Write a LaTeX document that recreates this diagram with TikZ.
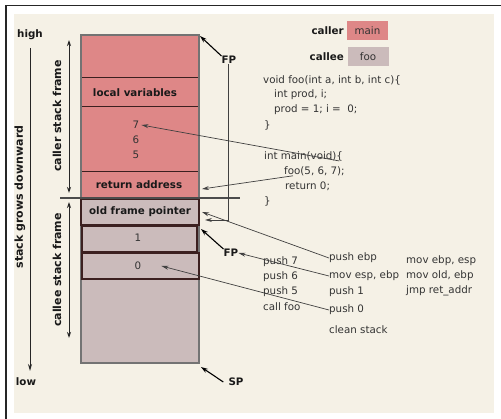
\documentclass[tikz,border=0pt]{standalone}
\usepackage{fontspec}
\setmainfont{DejaVu Sans}
\usetikzlibrary{arrows.meta}
\definecolor{bg}{HTML}{F5F1E6}
\definecolor{callerred}{HTML}{DE8787}
\definecolor{calleegray}{HTML}{CBBBBB}
\definecolor{cellline}{HTML}{3C2020}
\definecolor{codegray}{HTML}{333333}
\begin{document}
\begin{tikzpicture}[x=1pt,y=-1pt,
  code/.style={font=\fontsize{10.3}{12}\selectfont, text=codegray, inner sep=0pt, anchor=west},
  num/.style={font=\fontsize{10.3}{12}\selectfont, text=codegray, inner sep=0pt},
  lbl/.style={font=\fontsize{10.3}{12}\selectfont\bfseries, text=black!90, inner sep=0pt},
  rlbl/.style={font=\fontsize{11}{13}\selectfont\bfseries, text=black!90, inner sep=0pt, rotate=90},
  conn/.style={draw=black!75, line width=0.7pt, -{Stealth[length=7pt,width=4pt]}},
  ptr/.style={draw=black, line width=1.1pt, -{Stealth[length=7pt,width=4.5pt]}},
  span/.style={draw=black!85, line width=1pt, {Stealth[length=6pt,width=4pt]}-{Stealth[length=6pt,width=4pt]}},
  legend/.style={font=\fontsize{10.3}{12}\selectfont, text=codegray, minimum width=41pt, minimum height=19pt, inner sep=0pt}
]
\useasboundingbox (0,0) rectangle (501,419);
\fill[white] (0,0) rectangle (501,419);
\fill[bg] (14,14) rectangle (494,413);
\draw[black!85, line width=1.2pt] (501,5.5) -- (6,5.5) -- (6,419);

% stack
\fill[callerred] (81,35) rectangle (199,198);
\fill[calleegray] (81,198) rectangle (199,363);
\draw[cellline, line width=1pt] (81,78) -- (199,78) (81,107) -- (199,107) (81,172) -- (199,172);
\draw[black!55, line width=1.6pt] (81,35) rectangle (199,363);
\draw[cellline, line width=1.4pt] (81,199) rectangle (199,225);
\draw[cellline, line width=1.4pt] (82,226) rectangle (197,252);
\draw[cellline, line width=1.4pt] (82,253) rectangle (199,279);
\draw[black!70, line width=1.2pt] (60,198) -- (240,198);

\node[lbl] (lv) at (135,93) {local variables};
\node[num] (n7) at (136,125) {7};
\node[num] (n6) at (136,140) {6};
\node[num] (n5) at (136,155) {5};
\node[lbl] (ra) at (139,185) {return address};
\node[lbl] (ofp) at (140,212) {old frame pointer};
\node[num] (one) at (138,238) {1};
\node[num] (zero) at (138,266) {0};

% left annotations
\node[lbl] (high) at (30,35) {high};
\node[lbl] (low) at (26,382) {low};
\coordinate (gtop) at (30,48);
\coordinate (gbot) at (30,371);
\draw[black!85, line width=1pt, -{Stealth[length=7pt,width=4pt]}] (gtop) -- (gbot);
\node[rlbl] (grows) at (20,197) {stack grows downward};
\coordinate (cftop) at (69,40);
\coordinate (cfbot) at (69,193);
\draw[span] (cftop) -- (cfbot);
\node[rlbl] (callerframe) at (57,116) {caller stack frame};
\coordinate (ceftop) at (69,202);
\coordinate (cefbot) at (69,338);
\draw[span] (ceftop) -- (cefbot);
\node[rlbl] (calleeframe) at (57,270) {callee stack frame};

% pointers
\coordinate (stackTR) at (200,36);
\coordinate (ofpR) at (202,212);
\coordinate (ofpR2) at (205,220);
\coordinate (oneTR) at (201,229);
\coordinate (stackBR) at (201,367);
\coordinate (raR) at (202,189);
\node[lbl] (fp1) at (229,60) {FP};
\node[lbl] (fp2) at (231,253) {FP};
\node[lbl] (sp) at (236,382) {SP};
\draw[ptr] (fp1.north west) -- (stackTR);
\draw[black!75, line width=0.8pt, -{Stealth[length=7pt,width=4pt]}] ([xshift=-1pt]fp1.south) |- (ofpR2);
\draw[ptr] (fp2.north west) -- (oneTR);
\draw[ptr] ([xshift=-5pt]sp.west) -- (stackBR);

% legend
\node[lbl, anchor=east] (callerlbl) at (344,31) {caller};
\node[legend, fill=callerred] (mainbox) at (367.5,31) {main};
\node[lbl, anchor=east] (calleelbl) at (344,57) {callee};
\node[legend, fill=calleegray] (foobox) at (368,56.5) {foo};

% C code
\node[code] (vfoo) at (263,80) {void foo(int a, int b, int c)\{};
\node[code] (iprod) at (274,95) {int prod, i;};
\node[code] (prod) at (274,110) {prod = 1; i =\ \ 0;};
\node[code] (cb1) at (264,125) {\}};
\node[code] (imain) at (264,156) {int main(void)\{};
\node[code] (fcall) at (284,171) {foo(5, 6, 7);};
\node[code] (ret) at (285,186) {return 0;};
\node[code] (cb2) at (264,201) {\}};

% asm caller
\node[code] (p7) at (263,262) {push 7};
\node[code] (p6) at (263,277) {push 6};
\node[code] (p5) at (263,292) {push 5};
\node[code] (cf) at (263,307) {call foo};

% asm callee
\node[code] (pebp) at (329,258) {push ebp};
\node[code] (mesp) at (329,276) {mov esp, ebp};
\node[code] (p1) at (329,292) {push 1};
\node[code] (p0) at (329,310) {push 0};
\node[code] (clean) at (329,330) {clean stack};

\node[code] (mebp) at (406,261) {mov ebp, esp};
\node[code] (mold) at (406,276) {mov old, ebp};
\node[code] (jmp) at (406,291) {jmp ret\_addr};

% connectors
\draw[conn] ([xshift=-4pt]imain.south east) -- ([xshift=2pt]n7.east);
\draw[conn] ([xshift=9pt]fcall.south west) -- (raR);
\draw[conn] (pebp.west) -- (ofpR);
\draw[conn] (mesp.west) -- (fp2.east);
\draw[conn] (p0.west) -- ([xshift=20pt]zero.east);
\end{tikzpicture}
\end{document}
